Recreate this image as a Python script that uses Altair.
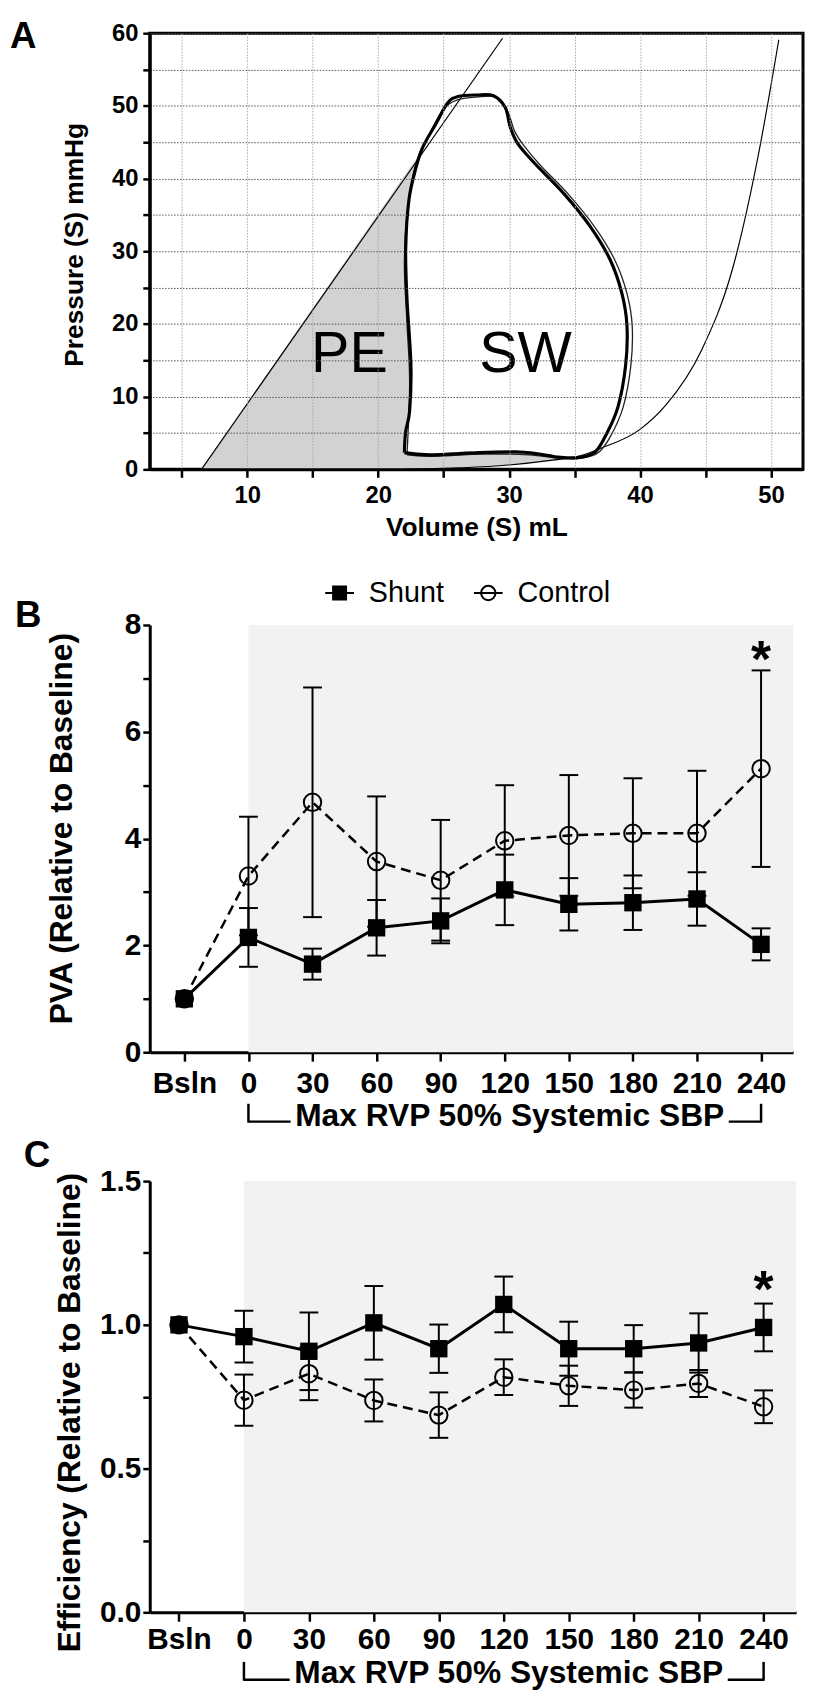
import altair as alt
import pandas as pd

FONT = "Liberation Sans"

# ---------------- Panel A: pressure-volume loop ----------------
loop_vol = [22.0, 23.9, 27.7, 30.5, 31.4, 33.0, 33.7, 35.2, 36.5, 37.3, 38.3, 38.9, 39.0, 38.6,
            37.7, 36.2, 34.2, 32.0, 30.7, 30.1, 29.7, 28.8, 27.5, 26.1, 25.3, 24.4, 23.4, 22.9,
            22.35, 22.1, 22.2, 22.5, 22.4, 22.1, 22.0]
loop_prs = [2.3, 2.0, 2.3, 2.4, 2.3, 1.9, 1.7, 1.6, 2.3, 4.4, 8.5, 14.3, 19.8, 24.3,
            28.9, 33.4, 37.9, 42.0, 44.7, 47.0, 49.8, 51.4, 51.5, 51.3, 50.4, 47.5, 44.3, 41.6,
            37.1, 30.3, 23.4, 14.3, 8.0, 5.2, 2.3]
beat2_vol = [22.2, 24.0, 28.0, 31.5, 33.8, 35.4, 36.8, 37.7, 38.7, 39.3, 39.4, 39.0, 38.1, 36.6,
             34.6, 32.4, 31.1, 30.4, 29.9, 29.0, 27.5, 26.0, 25.0, 24.1, 23.2, 22.7, 22.2, 22.0,
             22.2, 22.4, 22.2]
beat2_prs = [2.0, 1.8, 2.1, 2.0, 1.5, 1.5, 2.3, 4.4, 8.5, 14.3, 19.8, 24.2, 28.7, 33.2,
             37.7, 41.8, 44.6, 46.6, 49.2, 51.2, 51.2, 50.8, 49.6, 46.8, 43.6, 40.8, 35.0, 28.0,
             20.0, 12.0, 2.0]
espvr_vol = [6.5, 29.5]
espvr_prs = [0.0, 59.3]
edpvr_vol = [22.0, 26.0, 30.0, 33.0, 35.5, 37.0, 40.0, 42.0, 44.7, 47.1, 49.0, 50.6]
edpvr_prs = [0.0, 0.2, 0.6, 1.2, 1.9, 2.9, 5.5, 8.9, 16.4, 27.8, 42.9, 59.1]
pe_vol = [6.5, 23.4, 22.9, 22.35, 22.1, 22.2, 22.5, 22.4, 22.1, 22.0, 23.9, 27.7, 30.5, 31.4,
          33.0, 33.7, 35.2, 33.0, 30.0, 26.0, 22.0, 6.5]
pe_prs = [0.0, 44.0, 41.6, 37.1, 30.3, 23.4, 14.3, 8.0, 5.2, 2.3, 2.0, 2.3, 2.4, 2.3,
          1.9, 1.7, 1.6, 1.2, 0.6, 0.2, 0.0, 0.0]
area_labels = ["PE", "SW"]
area_label_vol = [17.8, 31.25]
area_label_prs = [15.7, 15.7]
a_x_ticks = [5, 10, 15, 20, 25, 30, 35, 40, 45, 50]
a_y_ticks = [0, 5, 10, 15, 20, 25, 30, 35, 40, 45, 50, 55, 60]

# ---------------- Panels B and C: time course ----------------
cats = ["Bsln", "0", "30", "60", "90", "120", "150", "180", "210", "240"]
shunt_pva = [1.0, 2.15, 1.65, 2.33, 2.46, 3.04, 2.77, 2.80, 2.87, 2.02]
shunt_pva_err = [0, 0.55, 0.29, 0.52, 0.42, 0.66, 0.49, 0.51, 0.50, 0.30]
control_pva = [1.0, 3.30, 4.68, 3.57, 3.22, 3.96, 4.06, 4.10, 4.10, 5.31]
control_pva_err = [0, 1.11, 2.15, 1.22, 1.13, 1.04, 1.13, 1.03, 1.17, 1.84]
shunt_eff = [1.0, 0.959, 0.908, 1.007, 0.917, 1.071, 0.917, 0.917, 0.937, 0.991]
shunt_eff_err = [0, 0.09, 0.135, 0.128, 0.084, 0.097, 0.094, 0.082, 0.103, 0.083]
control_eff = [1.0, 0.738, 0.830, 0.737, 0.686, 0.818, 0.788, 0.773, 0.796, 0.715]
control_eff_err = [0, 0.089, 0.092, 0.073, 0.079, 0.062, 0.070, 0.061, 0.047, 0.057]
series_names = ["Shunt", "Control"]
bracket_text = "Max RVP 50% Systemic SBP"
bracket_ends = ["0", "240"]
star_cat = "240"
star_pva = 7.57
star_eff = 1.162
pva_title = "PVA (Relative to Baseline)"
eff_title = "Efficiency (Relative to Baseline)"
a_title_x = "Volume (S) mL"
a_title_y = "Pressure (S) mmHg"


def letter_layer(letter, dx, dy):
    return alt.Chart(pd.DataFrame({"t": [letter]})).mark_text(
        font=FONT, fontSize=37, fontWeight="bold", align="left", baseline="alphabetic",
        color="black").encode(x=alt.value(dx), y=alt.value(dy), text="t:N")


# ---------- Panel A ----------
WA, HA = 659, 440
xsA = alt.Scale(domain=[2.55, 52.45], nice=False, zero=False)
ysA = alt.Scale(domain=[0, 60], nice=False)
axA_x = alt.Axis(values=a_x_ticks, labelExpr="datum.value % 10 == 0 ? datum.label : ''",
                 title=a_title_x, titleY=59, titleBaseline="middle", titleFontSize=26.5,
                 grid=True, gridColor="#a8a8a8", gridDash=[1.5, 1.5], gridWidth=1,
                 tickSize=8, tickWidth=2.5, domainWidth=3, labelFontSize=24, labelPadding=6,
                 zindex=1)
axA_y = alt.Axis(values=a_y_ticks, labelExpr="datum.value % 10 == 0 ? datum.label : ''",
                 title=a_title_y, titleX=-76, titleY=213, titleBaseline="middle",
                 titleFontSize=26.5, grid=True, gridColor="#555555", gridDash=[1.5, 1.5],
                 gridWidth=1, tickSize=7, tickWidth=2.5, domainWidth=3, labelFontSize=24,
                 labelPadding=5, zindex=1)

pe_df = pd.DataFrame({"v": pe_vol, "p": pe_prs, "i": range(len(pe_vol))})
loop_df = pd.DataFrame({"v": loop_vol, "p": loop_prs, "i": range(len(loop_vol))})
beat2_df = pd.DataFrame({"v": beat2_vol, "p": beat2_prs, "i": range(len(beat2_vol))})
espvr_df = pd.DataFrame({"v": espvr_vol, "p": espvr_prs, "i": range(len(espvr_vol))})
edpvr_df = pd.DataFrame({"v": edpvr_vol, "p": edpvr_prs, "i": range(len(edpvr_vol))})
lab_df = pd.DataFrame({"v": area_label_vol, "p": area_label_prs, "t": area_labels})

XA = alt.X("v:Q", scale=xsA, axis=axA_x)
YA = alt.Y("p:Q", scale=ysA, axis=axA_y, stack=None)

pe_fill = alt.Chart(pe_df).mark_line(fill="#d2d2d2", stroke="#d2d2d2", strokeWidth=0.5,
                                     interpolate="linear-closed").encode(x=XA, y=YA, order="i:Q")
espvr = alt.Chart(espvr_df).mark_line(color="black", strokeWidth=1.2).encode(
    x=XA, y=YA, order="i:Q")
edpvr = alt.Chart(edpvr_df).mark_line(color="black", strokeWidth=1.2, interpolate="monotone").encode(
    x=XA, y=YA, order="i:Q")
beat2 = alt.Chart(beat2_df).mark_line(color="#222222", strokeWidth=1.3, interpolate="cardinal").encode(
    x=XA, y=YA, order="i:Q")
loop = alt.Chart(loop_df).mark_line(color="black", strokeWidth=3.2, interpolate="cardinal").encode(
    x=XA, y=YA, order="i:Q")
labs = alt.Chart(lab_df).mark_text(font=FONT, fontSize=58, color="black", baseline="middle").encode(
    x=XA, y=YA, text="t:N")

panelA = alt.layer(pe_fill, espvr, edpvr, beat2, loop, labs,
                   letter_layer("A", -141, 14.5)).properties(
    width=WA, height=HA, view=alt.ViewBackground(stroke="black", strokeWidth=3))


# ---------- Panels B / C ----------
def timecourse(shunt, shunt_err, ctrl, ctrl_err, ymax, ystep, label_every, fmt, ytitle,
               W, H, xmin, star_y, letter, lay, with_legend=False):
    xmax = len(cats) - 0.5
    rows = []
    for name, m, e in ((series_names[0], shunt, shunt_err), (series_names[1], ctrl, ctrl_err)):
        for i, c in enumerate(cats):
            rows.append({"idx": i, "cat": c, "series": name, "mean": m[i],
                         "lo": m[i] - e[i], "hi": m[i] + e[i], "err": e[i]})
    df = pd.DataFrame(rows)
    xs = alt.Scale(domain=[xmin, xmax], nice=False, zero=False)
    ys = alt.Scale(domain=[0, ymax], nice=False)
    cats_expr = "[" + ",".join("'" + c + "'" for c in cats) + "][datum.value]"
    ax = alt.Axis(values=list(range(len(cats))), labelExpr=cats_expr, title=None, grid=False,
                  tickSize=9, tickWidth=2.5, domainWidth=3, labelFontSize=30,
                  labelPadding=lay["xpad"])
    nt = int(round(ymax / ystep))
    yvals = [round(k * ystep, 4) for k in range(nt + 1)]
    ay = alt.Axis(values=yvals,
                  labelExpr=f"(round(datum.value/{ystep}) % {label_every} == 0) ? format(datum.value, '{fmt}') : ''",
                  title=ytitle, titleX=lay["tx"], titleY=lay["ty"], titleBaseline="middle",
                  titleFontSize=32, grid=False, tickSize=7, tickWidth=2.5, domainWidth=3,
                  labelFontSize=30, labelPadding=2)
    X = alt.X("idx:Q", scale=xs, axis=ax)

    def Y(f):
        return alt.Y(f, scale=ys, axis=ay)

    bg_df = pd.DataFrame({"s": [cats.index(bracket_ends[0])], "e": [xmax], "y0": [0], "y1": [ymax]})
    bg = alt.Chart(bg_df).mark_rect(color="#f2f2f2").encode(
        x=alt.X("s:Q", scale=xs, axis=ax), x2="e:Q", y=Y("y0:Q"), y2="y1:Q")
    err_df = df[df["err"] > 0]
    layers = [bg]
    for name in reversed(series_names):
        sub = err_df[err_df["series"] == name]
        layers.append(alt.Chart(sub).mark_rule(color="black", strokeWidth=2).encode(
            x=X, y=Y("lo:Q"), y2="hi:Q"))
        for f in ("lo:Q", "hi:Q"):
            layers.append(alt.Chart(sub).mark_tick(orient="horizontal", color="black", size=19,
                                                   thickness=2, opacity=1).encode(x=X, y=Y(f)))
    ctrl_df = df[df["series"] == series_names[1]]
    sh_df = df[df["series"] == series_names[0]]
    layers.append(alt.Chart(ctrl_df).mark_line(color="black", strokeWidth=2.5,
                                               strokeDash=[10, 6]).encode(x=X, y=Y("mean:Q"), order="idx:Q"))
    layers.append(alt.Chart(sh_df).mark_line(color="black", strokeWidth=3).encode(
        x=X, y=Y("mean:Q"), order="idx:Q"))
    layers.append(alt.Chart(sh_df).mark_point(shape="square", filled=True, size=306, color="black",
                                              opacity=1).encode(x=X, y=Y("mean:Q")))
    layers.append(alt.Chart(ctrl_df).mark_point(shape="circle", filled=False, size=310, color="black",
                                                strokeWidth=2, opacity=1).encode(x=X, y=Y("mean:Q")))
    # significance star
    star_df = pd.DataFrame({"idx": [cats.index(star_cat)], "y": [star_y], "t": ["*"]})
    layers.append(alt.Chart(star_df).mark_text(font=FONT, fontSize=52, fontWeight="bold",
                                               baseline="alphabetic", dy=29, color="black").encode(
        x=X, y=Y("y:Q"), text="t:N"))
    # bracket under the time axis
    i0, i1 = cats.index(bracket_ends[0]), cats.index(bracket_ends[1])
    mid = (i0 + i1) / 2
    px_mid = (mid - xmin) / (xmax - xmin) * W + 5
    half = 13.56 * 32 / 2 + 4
    br_df = pd.DataFrame({"idx": [i0, i1]})
    layers.append(alt.Chart(br_df).mark_rule(color="black", strokeWidth=2.5).encode(
        x=X, y=alt.value(H + lay["b0"]), y2=alt.value(H + lay["b1"])))
    layers.append(alt.Chart(br_df.iloc[[0]]).mark_rule(color="black", strokeWidth=2.5).encode(
        x=X, x2=alt.value(px_mid - half), y=alt.value(H + lay["b1"] - 1)))
    layers.append(alt.Chart(br_df.iloc[[1]]).mark_rule(color="black", strokeWidth=2.5).encode(
        x=X, x2=alt.value(px_mid + half), y=alt.value(H + lay["b1"] - 1)))
    txt_df = pd.DataFrame({"idx": [mid], "t": [bracket_text]})
    layers.append(alt.Chart(txt_df).mark_text(font=FONT, fontSize=32, fontWeight="bold",
                                              baseline="middle", dx=5, color="black").encode(
        x=X, y=alt.value(H + lay["bt"]), text="t:N"))
    if with_legend:
        shape_paths = ["M-1,0H1M-0.45,-0.45H0.45V0.45H-0.45Z",
                       "M-1,0H-0.5M0.5,0H1M0.5,0A0.5,0.5,0,1,1,-0.5,0A0.5,0.5,0,1,1,0.5,0ZM-0.5,0H0.5"]
        leg = alt.Legend(orient="none", legendX=176, legendY=-48, direction="horizontal",
                         title=None, labelFont=FONT, labelFontSize=29, labelColor="black",
                         symbolSize=841, labelOffset=14, columnPadding=26,
                         symbolStrokeColor="black", symbolStrokeWidth=2)
        layers.append(alt.Chart(df).transform_filter("false").mark_point(
            strokeWidth=2, opacity=1).encode(
            x=X, y=Y("mean:Q"),
            shape=alt.Shape("series:N", scale=alt.Scale(domain=series_names, range=shape_paths), legend=leg),
            fill=alt.Fill("series:N", scale=alt.Scale(domain=series_names, range=["black", "transparent"]), legend=leg),
            stroke=alt.Stroke("series:N", scale=alt.Scale(domain=series_names, range=["black", "black"]), legend=leg)))
    layers.append(letter_layer(letter, lay["lx"], lay["ly"]))
    return alt.layer(*layers).properties(width=W, height=H)


panelB = timecourse(shunt_pva, shunt_pva_err, control_pva, control_pva_err, 8, 1, 2, "d",
                    pva_title, 649, 431, -0.54, star_pva, "B",
                    {"xpad": 8, "tx": -89, "ty": 205, "b0": 52, "b1": 71, "bt": 64,
                     "lx": -136, "ly": 2}, with_legend=True)
panelC = timecourse(shunt_eff, shunt_eff_err, control_eff, control_eff_err, 1.5, 0.25, 2, ".1f",
                    eff_title, 652, 435, -0.45, star_eff, "C",
                    {"xpad": 4, "tx": -81, "ty": 233, "b0": 50, "b1": 69, "bt": 61,
                     "lx": -127, "ly": -14})

ind_scale = dict(shape="independent", fill="independent", stroke="independent")
inner = alt.concat(panelB, panelC, columns=1, spacing=6, align="none").resolve_scale(
    **ind_scale).resolve_legend(**ind_scale)
chart = alt.concat(panelA, inner, columns=1, spacing=35, align="none").resolve_scale(
    **ind_scale).resolve_legend(**ind_scale).properties(
    padding={"left": 0, "top": 1, "right": 0, "bottom": 0}
).configure_axis(
    labelFont=FONT, titleFont=FONT, labelColor="black", titleColor="black",
    domainColor="black", tickColor="black", labelFontWeight="bold", titleFontWeight="bold"
).configure_view(strokeWidth=0)

chart.save("out.html", embed_options={"renderer": "svg", "actions": False})
